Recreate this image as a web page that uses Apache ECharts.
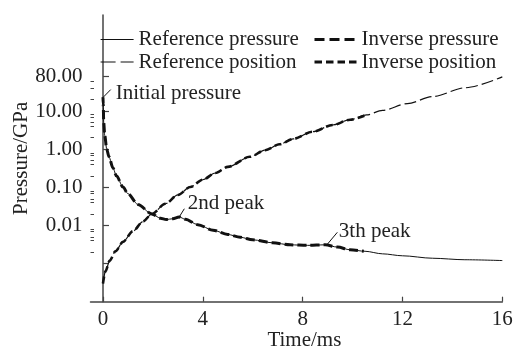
<!DOCTYPE html>
<html>
<head>
<meta charset="utf-8">
<script src="https://cdn.jsdelivr.net/npm/echarts@6/dist/echarts.min.js"></script>
<style>
html,body{margin:0;padding:0;background:#fff;}
#chart{width:515px;height:349px;}
</style>
</head>
<body>
<div id="chart"></div>
<script>
// ---- data (time in ms, values in GPa / log scale) ----
const refPressureT = [0, 0.01, 0.03, 0.07, 0.15, 0.24, 0.4, 0.54, 0.8, 1.0, 1.4, 1.94, 2.3, 2.54, 2.8, 3.05, 3.3, 3.8, 4.41, 5.0, 5.5, 6.0, 6.8, 7.5, 8.2, 8.9, 9.4, 9.9, 10.5, 11.2, 12.0, 13.2, 14.5, 16.0];
const refPressureV = [23, 15, 5, 2.3, 1.0, 0.63, 0.32, 0.2, 0.102, 0.068, 0.0355, 0.0204, 0.0155, 0.0143, 0.015, 0.0167, 0.0145, 0.0105, 0.0075, 0.0058, 0.0049, 0.0042, 0.0035, 0.0031, 0.0030, 0.0031, 0.0027, 0.0023, 0.0021, 0.0018, 0.0016, 0.00138, 0.00126, 0.0012];

const invPressureT = [0, 0.01, 0.03, 0.07, 0.15, 0.24, 0.4, 0.54, 0.8, 1.0, 1.4, 1.94, 2.3, 2.54, 2.8, 3.05, 3.3, 3.8, 4.41, 5.0, 5.5, 6.0, 6.8, 7.5, 8.2, 8.9, 9.4, 9.9, 10.45];
const invPressureV = [23, 15, 5, 2.3, 1.0, 0.63, 0.32, 0.2, 0.102, 0.068, 0.0355, 0.0204, 0.0155, 0.0143, 0.015, 0.0167, 0.0145, 0.0105, 0.0075, 0.0058, 0.0049, 0.0042, 0.0035, 0.0031, 0.0030, 0.0031, 0.0027, 0.0023, 0.0021];

const refPositionT = [0, 0.1, 0.27, 0.5, 0.8, 1.2, 1.6, 1.94, 2.5, 3.0, 3.5, 4.0, 4.5, 5.0, 5.88, 6.5, 7.08, 7.62, 8.4, 9.2, 9.9, 10.56, 11.2, 12.2, 13.2, 14.5, 16.0];
const refPositionV = [0.0003, 0.00063, 0.0012, 0.0021, 0.0037, 0.0071, 0.0126, 0.0195, 0.037, 0.063, 0.102, 0.158, 0.237, 0.343, 0.63, 0.94, 1.35, 1.86, 2.87, 4.3, 5.93, 7.9, 10.4, 15.7, 23.8, 40.7, 78.5];

const invPositionT = [0, 0.1, 0.27, 0.5, 0.8, 1.2, 1.6, 1.94, 2.5, 3.0, 3.5, 4.0, 4.5, 5.0, 5.88, 6.5, 7.08, 7.62, 8.4, 9.2, 9.9, 10.56];
const invPositionV = [0.0003, 0.00063, 0.0012, 0.0021, 0.0037, 0.0071, 0.0126, 0.0195, 0.037, 0.063, 0.102, 0.158, 0.237, 0.343, 0.63, 0.94, 1.35, 1.86, 2.87, 4.3, 5.93, 7.9];

const xTickLabels = [0, 4, 8, 12, 16];
const yTickLabels = [0.01, 0.1, 1, 10, 80];
const yMajorTicks = [0.001, 0.01, 0.1, 1, 10, 80];
const yMinorTicks = [0.002, 0.004, 0.005, 0.007, 0.008, 0.02, 0.04, 0.05, 0.07, 0.08, 0.2, 0.4, 0.5, 0.7, 0.8, 2, 4, 5, 7, 8, 20, 40, 60];

const annotations = [
  { text: 'Initial pressure', from: [0.01, 23], to: [0.31, 36.5], label: [0.51, 29.5] },
  { text: '2nd peak', from: [3.06, 0.0169], to: [3.26, 0.0274], label: [3.4, 0.038] },
  { text: '3th peak', from: [8.97, 0.0031], to: [9.39, 0.0066], label: [9.45, 0.00705] }
];

const pair = (t, v) => t.map((x, i) => [x, v[i]]);
const FONT = '"Liberation Serif", "Times New Roman", serif';
const TXT = '#222';
const AX = '#444';
const LINE = '#111';
const HIDDEN_SYMBOL = { color: 'rgba(0,0,0,0)', borderColor: 'rgba(0,0,0,0)', borderWidth: 0, opacity: 0 };

const chart = echarts.init(document.getElementById('chart'));
chart.setOption({
  animation: false,
  backgroundColor: '#fff',
  color: [LINE, LINE, LINE, LINE],
  textStyle: { fontFamily: FONT },
  grid: { left: 90.5, right: 12.7, top: 15, bottom: 47.3, containLabel: false, outerBoundsMode: 'none' },
  legend: [
    {
      orient: 'vertical', left: 100, top: 29, padding: 0, itemGap: 1.5,
      itemWidth: 33, itemHeight: 14,
      textStyle: { fontFamily: FONT, fontSize: 21, color: TXT },
      data: [
        { name: 'Reference pressure', itemStyle: HIDDEN_SYMBOL, lineStyle: { width: 1, type: 'solid', color: LINE } },
        { name: 'Reference position', itemStyle: HIDDEN_SYMBOL, lineStyle: { width: 1.2, type: [15, 5], color: LINE } }
      ]
    },
    {
      orient: 'vertical', left: 313, top: 29, padding: 0, itemGap: 1.5,
      itemWidth: 42, itemHeight: 14,
      textStyle: { fontFamily: FONT, fontSize: 21, color: TXT },
      data: [
        { name: 'Inverse pressure', itemStyle: HIDDEN_SYMBOL, lineStyle: { width: 3, type: [10, 5], color: LINE } },
        { name: 'Inverse position', itemStyle: HIDDEN_SYMBOL, lineStyle: { width: 3, type: [7.5, 4], color: LINE } }
      ]
    }
  ],
  xAxis: {
    type: 'value', min: -0.5, max: 16,
    name: 'Time/ms', nameLocation: 'middle', nameGap: 28.5, nameMoveOverlap: false,
    nameTextStyle: { fontFamily: FONT, fontSize: 21, color: TXT, padding: [0, 0, 0, 16] },
    axisLine: { show: true, lineStyle: { color: AX, width: 1.5 } },
    axisTick: { show: true, inside: true, length: 5, customValues: xTickLabels, lineStyle: { color: AX, width: 1.2 } },
    axisLabel: { customValues: xTickLabels, fontFamily: FONT, fontSize: 21, color: TXT, margin: 7 },
    splitLine: { show: false }
  },
  yAxis: [
    {
      type: 'log', logBase: 10, min: 0.0001, max: 3300,
      name: 'Pressure/GPa', nameLocation: 'middle', nameGap: 59, nameMoveOverlap: false,
      nameTextStyle: { fontFamily: FONT, fontSize: 21, color: TXT },
      axisLine: { show: true, lineStyle: { color: AX, width: 1.5 } },
      axisTick: { show: true, inside: true, length: 6, customValues: yMajorTicks, lineStyle: { color: AX, width: 1.2 } },
      axisLabel: { customValues: yTickLabels, fontFamily: FONT, fontSize: 21, color: TXT, margin: 8,
        formatter: v => Number(v).toFixed(2) },
      splitLine: { show: false }
    },
    {
      type: 'log', logBase: 10, min: 0.0001, max: 3300, position: 'left',
      axisLine: { show: false },
      axisTick: { show: true, inside: true, length: 3.5, customValues: yMinorTicks, lineStyle: { color: AX, width: 1 } },
      axisLabel: { show: false },
      splitLine: { show: false }
    }
  ],
  series: [
    {
      name: 'Reference pressure', type: 'line', data: pair(refPressureT, refPressureV),
      showSymbol: false, symbol: 'none', smooth: 0.3, smoothMonotone: 'x',
      itemStyle: { color: LINE }, lineStyle: { color: LINE, width: 1, type: 'solid' }, z: 2
    },
    {
      name: 'Reference position', type: 'line', data: pair(refPositionT, refPositionV),
      showSymbol: false, symbol: 'none', smooth: 0.3, smoothMonotone: 'x',
      itemStyle: { color: LINE }, lineStyle: { color: LINE, width: 1.2, type: [12, 4] }, z: 2
    },
    {
      name: 'Inverse pressure', type: 'line', data: pair(invPressureT, invPressureV),
      showSymbol: false, symbol: 'none', smooth: 0.3, smoothMonotone: 'x',
      itemStyle: { color: LINE }, lineStyle: { color: LINE, width: 3, type: [9, 4] }, z: 3
    },
    {
      name: 'Inverse position', type: 'line', data: pair(invPositionT, invPositionV),
      showSymbol: false, symbol: 'none', smooth: 0.3, smoothMonotone: 'x',
      itemStyle: { color: LINE }, lineStyle: { color: LINE, width: 2.6, type: [7, 4] }, z: 3
    }
  ]
});

const gfx = [];
annotations.forEach(a => {
  const p1 = chart.convertToPixel({ gridIndex: 0 }, a.from);
  const p2 = chart.convertToPixel({ gridIndex: 0 }, a.to);
  const pl = chart.convertToPixel({ gridIndex: 0 }, a.label);
  gfx.push({ type: 'line', shape: { x1: p1[0], y1: p1[1], x2: p2[0], y2: p2[1] }, style: { stroke: LINE, lineWidth: 1 }, z: 10 });
  gfx.push({ type: 'text', x: pl[0], y: pl[1], style: { text: a.text, fontFamily: FONT, fontSize: 21, fill: TXT, verticalAlign: 'middle', align: 'left' }, z: 10 });
});
chart.setOption({ graphic: gfx });
</script>
</body>
</html>
